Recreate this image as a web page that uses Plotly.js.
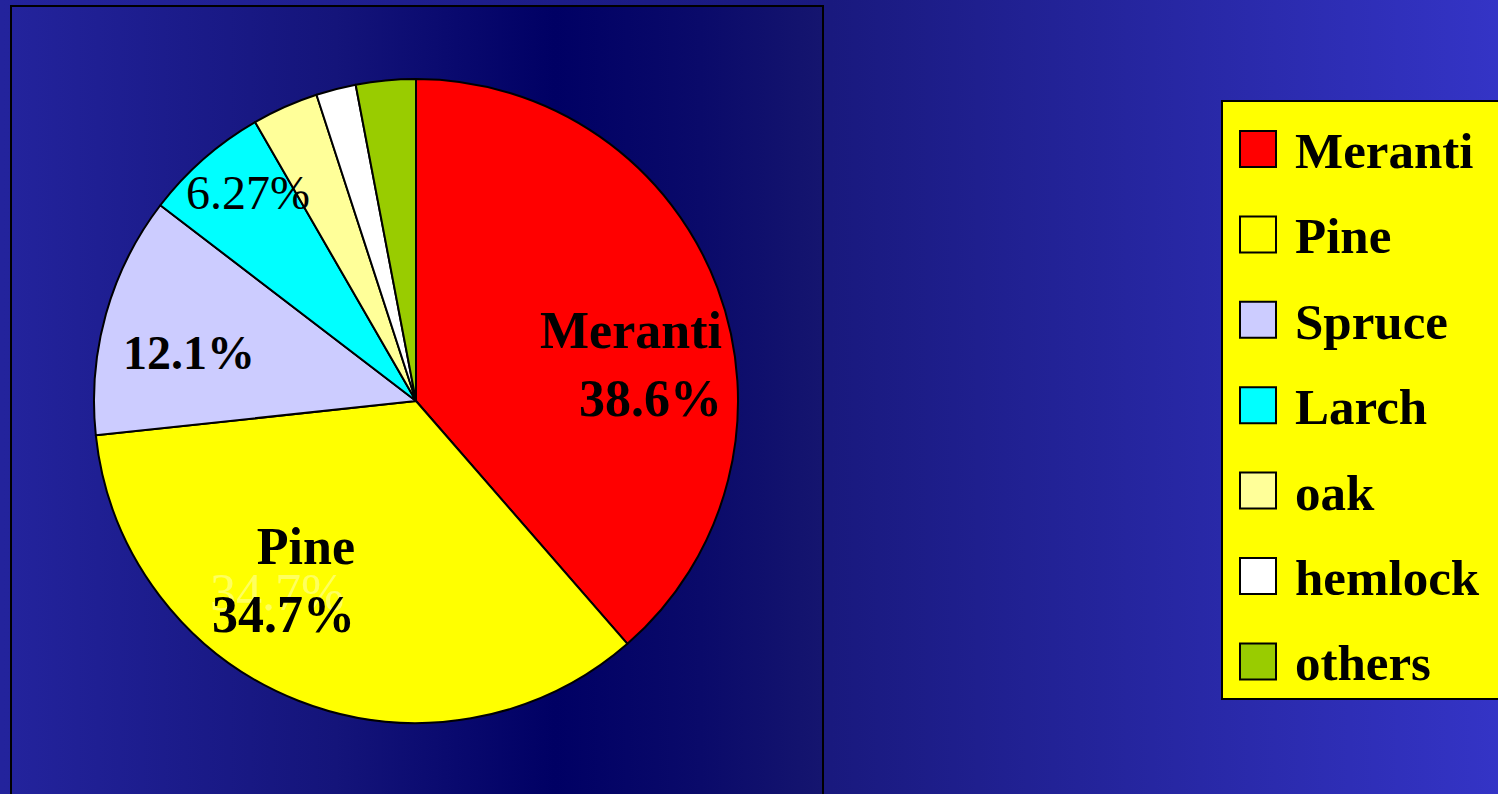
<!DOCTYPE html>
<html>
<head>
<meta charset="utf-8">
<script src="https://cdn.plot.ly/plotly-3.0.1.min.js"></script>
<style>
  html, body { margin:0; padding:0; width:1498px; height:794px; overflow:hidden;
    background: linear-gradient(to right, #23239c 0px, #1c1c88 560px, #19197e 830px, #3434c6 1498px); }
  #box { position:absolute; left:10px; top:5px; width:810px; height:820px; border:2px solid #000;
    background: linear-gradient(to right, #23239c 0%, #14147a 40%, #000064 67%, #0a0a6a 85%, #15156f 100%); }
  #chart { position:absolute; left:0; top:0; width:1498px; height:794px; }
</style>
</head>
<body>
<div id="box"></div>
<div id="chart"></div>
<script>
const labels = ["Meranti", "Pine", "Spruce", "Larch", "oak", "hemlock", "others"];
const values = [38.6, 34.7, 12.1, 6.27, 3.33, 2.0, 3.0];
const sliceColors = ["#ff0000", "#ffff00", "#ccccff", "#00ffff", "#ffff99", "#ffffff", "#99cc00"];
const pctText = ["38.6%", "34.7%", "12.1%", "6.27%", "", "", ""];
const showName = [true, true, false, false, false, false, false];
const boldText = [true, true, true, false, false, false, false];

const FONT = "Liberation Serif, Times New Roman, serif";
const W = 1498, H = 794;
const px = x => x / W;
const py = y => (H - y) / H;

// label placement (page pixels) for the slices that carry a label
const labelPlace = [
  { x: 724, y: 365, xanchor: "right", size: 52 },
  { x: 357, y: 580, xanchor: "right", size: 52 },
  { x: 189, y: 352, xanchor: "center", size: 48 },
  { x: 248, y: 192, xanchor: "center", size: 48 }
];

const annotations = [];
labels.forEach((l, i) => {
  if (!pctText[i] || !labelPlace[i]) return;
  let t = showName[i] ? l + "<br>" + pctText[i] : pctText[i];
  if (boldText[i]) t = "<b>" + t + "</b>";
  const p = labelPlace[i];
  annotations.push({
    text: t, showarrow: false, xref: "paper", yref: "paper",
    x: px(p.x), y: py(p.y), xanchor: p.xanchor, yanchor: "middle", align: "right",
    font: { family: FONT, size: p.size, color: "#000000" }
  });
});
// faint duplicate of the Pine percentage seen in the original
annotations.unshift({
  text: pctText[1], showarrow: false, xref: "paper", yref: "paper",
  x: px(277), y: py(592), xanchor: "center", yanchor: "middle",
  font: { family: FONT, size: 52, color: "rgba(255,255,190,0.5)" }
});

const trace = {
  type: "pie",
  labels: labels,
  values: values,
  textinfo: "none",
  sort: false,
  direction: "clockwise",
  rotation: 0,
  marker: { colors: sliceColors, line: { color: "#000000", width: 2 } },
  domain: { x: [px(416 - 323), px(416 + 323)], y: [py(401 + 322), py(401 - 322)] },
  hoverinfo: "label+percent"
};

const layout = {
  width: W, height: H,
  margin: { l: 0, r: 0, t: 0, b: 0 },
  paper_bgcolor: "rgba(0,0,0,0)",
  plot_bgcolor: "rgba(0,0,0,0)",
  showlegend: true,
  legend: {
    x: px(1221), xanchor: "left",
    y: py(100), yanchor: "top",
    bgcolor: "#ffff00", bordercolor: "#000000", borderwidth: 2,
    font: { family: FONT, size: 51, color: "#000000", weight: "bold" },
    traceorder: "normal"
  },
  annotations: annotations
};

const gd = document.getElementById("chart");
Plotly.newPlot(gd, [trace], layout, { displayModeBar: false, staticPlot: true }).then(() => {
  // enlarge legend rows and swatches to match the original slide legend
  const leg = gd.querySelector(".legend");
  if (!leg) return;
  const sb = leg.querySelector(".scrollbox");
  if (sb) sb.removeAttribute("clip-path");
  const bg = leg.querySelector("rect.bg");
  if (bg) { bg.setAttribute("height", 598); bg.setAttribute("width", 400); }
  leg.querySelectorAll(".traces").forEach((t, i) => {
    t.setAttribute("transform", "translate(0," + (49 + i * 85.4) + ")");
    const p = t.querySelector(".legendpoints path");
    if (p) { p.setAttribute("d", "M18,18H-18V-18H18Z"); p.setAttribute("transform", "translate(37,0)"); }
    const tx = t.querySelector("text.legendtext");
    if (tx) { tx.setAttribute("x", 74); tx.setAttribute("y", 19); tx.removeAttribute("dy"); }
  });
});
</script>
</body>
</html>
